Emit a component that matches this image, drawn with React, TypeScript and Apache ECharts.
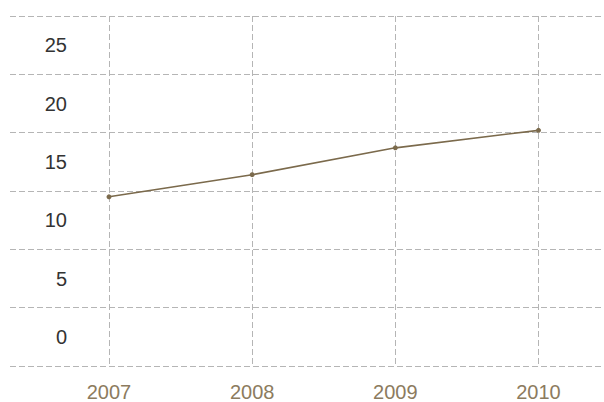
import React, { useEffect, useRef } from "react";
import * as echarts from "echarts";

const years = ["2007", "2008", "2009", "2010"];
const values = [12.0, 13.9, 16.2, 17.7];
const yTickLabels = [0, 5, 10, 15, 20, 25];

export default function App() {
  const ref = useRef<HTMLDivElement>(null);
  useEffect(() => {
    if (!ref.current) return;
    const chart = echarts.init(ref.current, null, { renderer: "svg" });
    const dash = { color: "#b5b5b5", width: 1, type: [6, 3] as number[] };
    chart.setOption({
      animation: false,
      grid: [
        { left: 109, right: 65.5, top: 16, bottom: 36, outerBoundsMode: "none", containLabel: false },
        { left: 10, right: -20, top: 16, bottom: 36, outerBoundsMode: "none", containLabel: false },
      ],
      xAxis: [
        {
          type: "category",
          gridIndex: 0,
          data: years,
          boundaryGap: false,
          axisLine: { show: false },
          axisTick: { show: false },
          splitLine: { show: true, lineStyle: dash },
          axisLabel: {
            color: "#8c7b5e",
            fontSize: 20,
            lineHeight: 16,
            fontFamily: "Liberation Sans, Arial, sans-serif",
            margin: 18,
          },
        },
        { type: "value", gridIndex: 1, show: false, min: 0, max: 1 },
      ],
      yAxis: [
        {
          type: "value",
          gridIndex: 0,
          min: -2.5,
          max: 27.5,
          splitNumber: 6,
          axisLine: { show: false },
          axisTick: { show: false },
          splitLine: { show: false },
          axisLabel: {
            color: "#333333",
            fontSize: 20,
            fontFamily: "Liberation Sans, Arial, sans-serif",
            margin: 42,
            showMinLabel: false,
            showMaxLabel: false,
            formatter: (v: number) =>
              yTickLabels.indexOf(v) >= 0 ? String(v) : "",
          },
        },
        {
          type: "value",
          gridIndex: 1,
          min: 0,
          max: 6,
          interval: 1,
          axisLine: { show: false },
          axisTick: { show: false },
          axisLabel: { show: false },
          splitLine: { show: true, lineStyle: dash },
        },
      ],
      series: [
        {
          type: "line",
          xAxisIndex: 0,
          yAxisIndex: 0,
          data: values,
          symbol: "circle",
          symbolSize: 5,
          itemStyle: { color: "#7b6a4c" },
          lineStyle: { color: "#7b6a4c", width: 1.6 },
        },
      ],
    });
    return () => chart.dispose();
  }, []);
  return <div ref={ref} style={{ width: 604, height: 402, position: "absolute", left: 0, top: 0 }} />;
}
